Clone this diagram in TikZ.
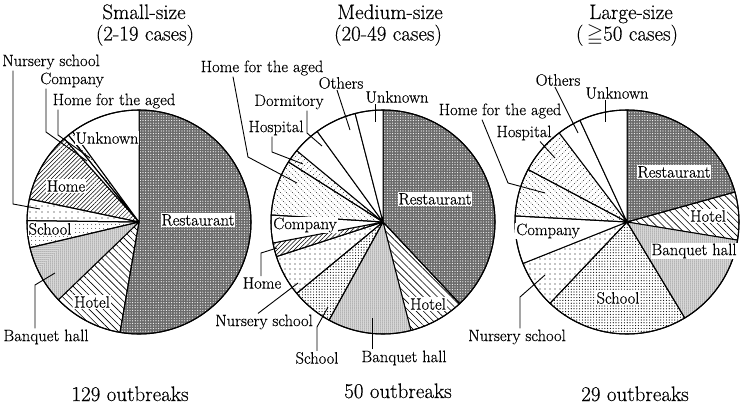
\documentclass[tikz,border=0pt]{standalone}
\usepackage{amssymb}
\usepackage{fontspec}
\setmainfont{Latin Modern Roman}[UprightFeatures={FakeBold=0.35}]
\usetikzlibrary{patterns,patterns.meta}
\pgfdeclarepatternformonly{dotbs}{\pgfqpoint{-1pt}{-1pt}}{\pgfqpoint{7pt}{7pt}}{\pgfqpoint{6pt}{6pt}}{%
  \pgfpathcircle{\pgfqpoint{0pt}{6pt}}{.45pt}%
  \pgfpathcircle{\pgfqpoint{1.5pt}{4.5pt}}{.45pt}%
  \pgfpathcircle{\pgfqpoint{3pt}{3pt}}{.45pt}%
  \pgfpathcircle{\pgfqpoint{4.5pt}{1.5pt}}{.45pt}%
  \pgfusepath{fill}}
\pgfdeclarepatternformonly{dotfs}{\pgfqpoint{-1pt}{-1pt}}{\pgfqpoint{7pt}{7pt}}{\pgfqpoint{6pt}{6pt}}{%
  \pgfpathcircle{\pgfqpoint{0pt}{0pt}}{.45pt}%
  \pgfpathcircle{\pgfqpoint{1.5pt}{1.5pt}}{.45pt}%
  \pgfpathcircle{\pgfqpoint{3pt}{3pt}}{.45pt}%
  \pgfpathcircle{\pgfqpoint{4.5pt}{4.5pt}}{.45pt}%
  \pgfusepath{fill}}
\newcommand\pieslice[4]{\path[#4] (#1) -- ++(#2:112) arc[start angle=#2,end angle=#3,radius=112] -- cycle;}
\tikzset{
  pie/.style={draw=black, line width=1pt, line join=round},
  rest/.style={pie, preaction={fill=black!58}, pattern={Dots[distance=2.6pt,radius=0.6pt]}, pattern color=white},
  hotel/.style={pie, pattern={Lines[angle=-45,distance=5pt,line width=0.6pt]}},
  banq/.style={pie, preaction={fill=black!8}, pattern={Dots[distance=2pt,radius=0.5pt]}},
  schoolS/.style={pie, pattern={Dots[distance=4pt,radius=0.55pt]}},
  schoolD/.style={pie, pattern={Dots[distance=2.8pt,radius=0.6pt]}},
  nurs/.style={pie, pattern={Dots[distance=6pt,radius=0.55pt]}},
  nursM/.style={pie, pattern={Dots[distance=5pt,radius=0.55pt]}},
  homep/.style={pie, pattern={Lines[angle=45,distance=3pt,line width=0.5pt]}},
  aged/.style={pie, pattern=dotbs},
  hosp/.style={pie, pattern=dotfs},
  blank/.style={pie, fill=white},
  lab/.style={font=\fontsize{16.5}{18}\selectfont, inner sep=1pt},
  wlab/.style={lab, fill=white},
  ttl/.style={font=\fontsize{21}{24}\selectfont, anchor=base, inner sep=0pt},
  outb/.style={font=\fontsize{21}{23}\selectfont, anchor=base, inner sep=0pt},
  leader/.style={line width=0.9pt}
}
\begin{document}
\begin{tikzpicture}[x=1pt,y=1pt]
\useasboundingbox (0,0) rectangle (743,-404);
\coordinate (sc) at (139,-222);
\coordinate (mc) at (383,-222);
\coordinate (lc) at (627,-222);

% ---------- Small-size pie ----------
\pieslice{sc}{90}{-99.77}{rest}
\pieslice{sc}{-99.77}{-136.05}{hotel}
\pieslice{sc}{-136.05}{-166.74}{banq}
\pieslice{sc}{-166.74}{-180.70}{schoolS}
\pieslice{sc}{-180.70}{-191.86}{nurs}
\pieslice{sc}{-191.86}{-228.14}{homep}
\pieslice{sc}{-228.14}{-230.93}{blank}
\pieslice{sc}{-230.93}{-233.72}{aged}
\pieslice{sc}{-233.72}{-270}{blank}
\draw[line width=1.1pt] (sc) circle[radius=112];

% ---------- Medium-size pie ----------
\pieslice{mc}{90}{-46.8}{rest}
\pieslice{mc}{-46.8}{-75.6}{hotel}
\pieslice{mc}{-75.6}{-118.8}{banq}
\pieslice{mc}{-118.8}{-140.4}{schoolD}
\pieslice{mc}{-140.4}{-162}{nursM}
\pieslice{mc}{-162}{-169.2}{homep}
\pieslice{mc}{-169.2}{-183.6}{blank}
\pieslice{mc}{-183.6}{-212.4}{aged}
\pieslice{mc}{-212.4}{-219.6}{hosp}
\pieslice{mc}{-219.6}{-234}{blank}
\pieslice{mc}{-234}{-255.6}{blank}
\pieslice{mc}{-255.6}{-270}{blank}
\draw[line width=1.1pt] (mc) circle[radius=112];

% ---------- Large-size pie ----------
\pieslice{lc}{90}{15.52}{rest}
\pieslice{lc}{15.52}{-9.31}{hotel}
\pieslice{lc}{-9.31}{-58.97}{banq}
\pieslice{lc}{-58.97}{-133.45}{schoolD}
\pieslice{lc}{-133.45}{-158.28}{nursM}
\pieslice{lc}{-158.28}{-183.10}{blank}
\pieslice{lc}{-183.10}{-207.93}{aged}
\pieslice{lc}{-207.93}{-232.76}{hosp}
\pieslice{lc}{-232.76}{-245.17}{blank}
\pieslice{lc}{-245.17}{-270}{blank}
\draw[line width=1.1pt] (lc) circle[radius=112];

% ---------- titles ----------
\node[ttl] (t1a) at (144,-19) {Small-size};
\node[ttl] (t1b) at (145,-40.5) {(2-19 cases)};
\node[ttl] (t2a) at (390,-19) {Medium-size};
\node[ttl] (t2b) at (388,-40.5) {(20-49 cases)};
\node[ttl] (t3a) at (631,-19) {Large-size};
\node[ttl] (t3b) at (627,-40.5) {(\,\smash{$\geqq$}50 cases)};
\node[outb] (o1) at (130,-401) {129 outbreaks};
\node[outb] (o2) at (398,-398) {50 outbreaks};
\node[outb] (o3) at (635,-401) {29 outbreaks};

% ---------- small pie labels ----------
\node[wlab] (s-rest) at (198,-220) {Restaurant};
\node[wlab] (s-hotel) at (92,-302) {Hotel};
\node[wlab] (s-school) at (50,-229) {School};
\node[wlab] (s-home) at (66,-186) {Home};
\node[wlab] (s-unk) at (107,-138) {Unknown};
\node[lab] (s-nurs) at (51,-62) {Nursery school};
\node[lab] (s-comp) at (72,-80) {Company};
\node[lab] (s-aged) at (114,-101) {Home for the aged};
\node[lab] (s-banq) at (46,-337) {Banquet hall};
\coordinate (s-nurs-e) at (40,-209);
\coordinate (s-comp-e) at (87,-161);
\coordinate (s-aged-e) at (90,-158);
\coordinate (s-banq-e) at (55,-273);
\draw[leader] (s-nurs.south -| 13,0) -- (13,-204) -- (s-nurs-e);
\draw[leader] (s-comp.south -| 46,0) -- (46,-132) -- (s-comp-e);
\draw[leader] (s-aged.south -| 58,0) -- (58,-135) -- (s-aged-e);
\draw[leader] (s-banq.north -| 35,0) -- (35,-285) -- (s-banq-e);

% ---------- medium pie labels ----------
\node[wlab] (m-rest) at (435,-199) {Restaurant};
\node[wlab] (m-hotel) at (428,-304) {Hotel};
\node[wlab] (m-comp) at (305,-225) {Company};
\node[lab] (m-aged) at (262,-68) {Home for the aged};
\node[lab] (m-oth) at (341,-83) {Others};
\node[lab] (m-dorm) at (289,-102) {Dormitory};
\node[lab] (m-unk) at (397,-97) {Unknown};
\node[lab] (m-hosp) at (276,-128) {Hospital};
\node[lab] (m-home) at (262,-283) {Home};
\node[lab] (m-nurs) at (264,-322) {Nursery school};
\node[lab] (m-school) at (317,-358) {School};
\node[lab] (m-banq) at (404,-358) {Banquet hall};
\coordinate (m-aged-e) at (297,-183);
\coordinate (m-oth-e) at (350,-130);
\coordinate (m-dorm-e) at (322,-146);
\coordinate (m-unk-e) at (375,-122);
\coordinate (m-hosp-e) at (303,-164);
\coordinate (m-home-e) at (277,-248);
\coordinate (m-nurs-e) at (298,-283);
\coordinate (m-school-e) at (328,-307);
\coordinate (m-banq-e) at (372,-318);
\draw[leader] (m-aged.south -| 233,0) -- (248,-157) -- (m-aged-e);
\draw[leader] (m-oth.south -| 337,0) -- (m-oth-e);
\draw[leader] (m-dorm.south -| 307,0) -- (307,-133) -- (m-dorm-e);
\draw[leader] (m-unk.south -| 375,0) -- (m-unk-e);
\draw[leader] (m-hosp.south -| 272,0) -- (272,-152) -- (m-hosp-e);
\draw[leader] (m-home.north -| 261,0) -- (261,-253) -- (m-home-e);
\draw[leader] (m-nurs.north -| 258,0) -- (m-nurs-e);
\draw[leader] (m-school.north -| 317,0) -- (317,-327) -- (m-school-e);
\draw[leader] (m-banq.north -| 372,0) -- (m-banq-e);

% ---------- large pie labels ----------
\node[wlab] (l-rest) at (674,-172) {Restaurant};
\node[wlab] (l-hotel) at (708,-216) {Hotel};
\node[wlab] (l-banq) at (694,-251) {Banquet hall};
\node[wlab] (l-school) at (618,-298) {School};
\node[wlab] (l-comp) at (548,-231) {Company};
\node[lab] (l-oth) at (558,-80) {Others};
\node[lab] (l-unk) at (617,-93) {Unknown};
\node[lab] (l-aged) at (500,-111) {Home for the aged};
\node[lab] (l-hosp) at (524,-133) {Hospital};
\node[lab] (l-nurs) at (517,-337) {Nursery school};
\coordinate (l-oth-e) at (578,-133);
\coordinate (l-unk-e) at (605,-122);
\coordinate (l-aged-e) at (545,-193);
\coordinate (l-hosp-e) at (555,-158);
\coordinate (l-nurs-e) at (545,-275);
\draw[leader] (l-oth.south -| 555,0) -- (l-oth-e);
\draw[leader] (l-unk.south -| 605,0) -- (l-unk-e);
\draw[leader] (l-aged.south -| 482,0) -- (508,-183) -- (l-aged-e);
\draw[leader] (l-hosp.south -| 540,0) -- (l-hosp-e);
\draw[leader] (l-nurs.north -| 520,0) -- (520,-297) -- (l-nurs-e);
\end{tikzpicture}
\end{document}
